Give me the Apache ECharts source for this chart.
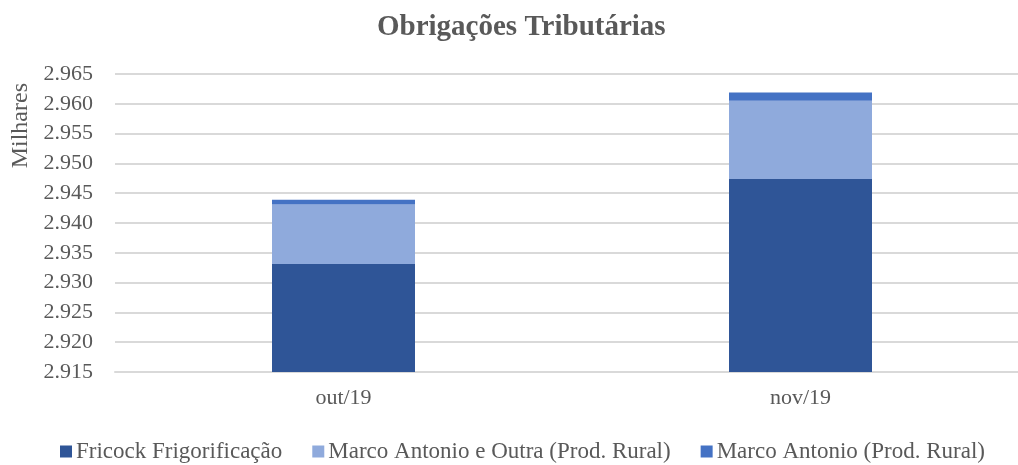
<!DOCTYPE html>
<html>
<head>
<meta charset="utf-8">
<script src="https://cdn.jsdelivr.net/npm/echarts@6/dist/echarts.min.js"></script>
<style>
  html, body { margin: 0; padding: 0; background: #fff; }
  #main { width: 1018px; height: 465px; }
</style>
</head>
<body>
<div id="main"></div>
<script>
// values in thousands (Milhares)
const months = ['out/19', 'nov/19'];
const fricock = [2933.1, 2947.4];
const marcoOutra = [10.0, 13.1];
const marcoAntonio = [0.8, 1.4];

let chartDom = document.getElementById('main');
let myChart = echarts.init(chartDom);
let option;

const font = '"Liberation Serif", "DejaVu Serif", serif';
const textColor = '#595959';

option = {
    textStyle: { fontFamily: font },
    title: {
        text: 'Obrigações Tributárias',
        left: 372,
        top: 8,
        textStyle: {
            fontFamily: font,
            fontSize: 29,
            fontWeight: 'bold',
            color: textColor
        }
    },
    legend: {
        bottom: -3,
        left: 55,
        itemWidth: 12,
        itemHeight: 12,
        itemGap: 30,
        icon: 'rect',
        textStyle: { fontFamily: font, fontSize: 23, color: textColor, padding: [0, 0, 0, -1] },
        data: ['Fricock Frigorificação', 'Marco Antonio e Outra (Prod. Rural)', 'Marco Antonio (Prod. Rural)']
    },
    graphic: [{
        type: 'text',
        left: 9,
        top: 83,
        rotation: Math.PI / 2,
        style: {
            text: 'Milhares',
            font: '24px ' + font,
            fill: textColor
        }
    }],
    grid: {
        left: 115,
        width: 914,
        top: 74,
        bottom: 93,
        containLabel: false,
        outerBoundsMode: 'none'
    },
    xAxis: {
        type: 'category',
        data: months,
        axisLine: { show: true, lineStyle: { color: '#d9d9d9', width: 2 } },
        axisTick: { show: false },
        axisLabel: { fontFamily: font, fontSize: 22, color: textColor, margin: 15 }
    },
    yAxis: {
        type: 'value',
        min: 2915,
        max: 2965,
        interval: 5,
        axisLine: { show: false },
        axisTick: { show: false },
        axisLabel: {
            fontFamily: font,
            fontSize: 22,
            color: textColor,
            margin: 22,
            formatter: function (v) {
                return (v / 1000).toFixed(3);
            }
        },
        splitLine: { lineStyle: { color: '#d9d9d9', width: 2 } }
    },
    series: [
        {
            name: 'Fricock Frigorificação',
            type: 'bar',
            stack: 'total',
            barWidth: 143,
            data: fricock,
            itemStyle: { color: '#2F5597' }
        },
        {
            name: 'Marco Antonio e Outra (Prod. Rural)',
            type: 'bar',
            stack: 'total',
            data: marcoOutra,
            itemStyle: { color: '#8FAADC' }
        },
        {
            name: 'Marco Antonio (Prod. Rural)',
            type: 'bar',
            stack: 'total',
            data: marcoAntonio,
            itemStyle: { color: '#4472C4' }
        }
    ]
};

option && myChart.setOption(option);
</script>
</body>
</html>
